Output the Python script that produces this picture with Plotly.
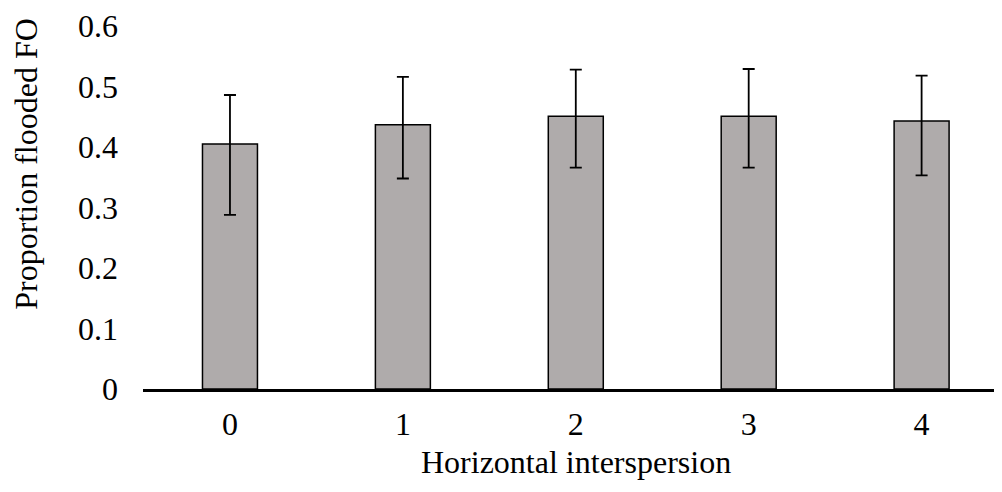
import plotly.graph_objects as go

categories = ["0", "1", "2", "3", "4"]
values = [0.405, 0.437, 0.451, 0.451, 0.443]
err_plus = [0.081, 0.079, 0.077, 0.078, 0.075]
err_minus = [0.117, 0.089, 0.085, 0.085, 0.090]
y_ticks = [0, 0.1, 0.2, 0.3, 0.4, 0.5, 0.6]
y_ticklabels = ["0", "0.1", "0.2", "0.3", "0.4", "0.5", "0.6"]
x_title = "Horizontal interspersion"
y_title = "Proportion flooded FO"

font_family = "Liberation Serif"

fig = go.Figure()
fig.add_trace(go.Bar(
    x=list(range(len(categories))),
    y=values,
    width=0.318,
    marker=dict(color="#AFABAB", line=dict(color="black", width=1.5)),
    error_y=dict(type="data", symmetric=False, array=err_plus, arrayminus=err_minus,
                 color="black", thickness=1.8, width=6),
))

fig.update_layout(
    width=994, height=484,
    margin=dict(l=135, r=0, t=15, b=103),
    plot_bgcolor="white", paper_bgcolor="white",
    showlegend=False,
    font=dict(family=font_family, size=32, color="black"),
    xaxis=dict(
        range=[-0.503, 4.465],
        tickmode="array", tickvals=list(range(len(categories))), ticktext=categories,
        showgrid=False, zeroline=False,
        showline=True, linecolor="black", linewidth=2.5,
        ticks="", ticklabelstandoff=5,
        tickfont=dict(family=font_family, size=32),
    ),
    yaxis=dict(
        range=[0, 0.6001],
        tickmode="array", tickvals=y_ticks, ticktext=y_ticklabels,
        showgrid=False, zeroline=False, showline=False,
        ticks="", ticklabelstandoff=24, ticklabeloverflow="allow",
        tickfont=dict(family=font_family, size=32),
    ),
    annotations=[
        dict(text=x_title, xref="paper", yref="paper", x=0.504, y=-0.202,
             xanchor="center", yanchor="middle", showarrow=False,
             font=dict(family=font_family, size=32)),
        dict(text=y_title, xref="paper", yref="paper", x=-0.1365, y=0.620,
             xanchor="center", yanchor="middle", showarrow=False, textangle=-90,
             font=dict(family=font_family, size=32)),
    ],
)

fig.write_html("out.html")
